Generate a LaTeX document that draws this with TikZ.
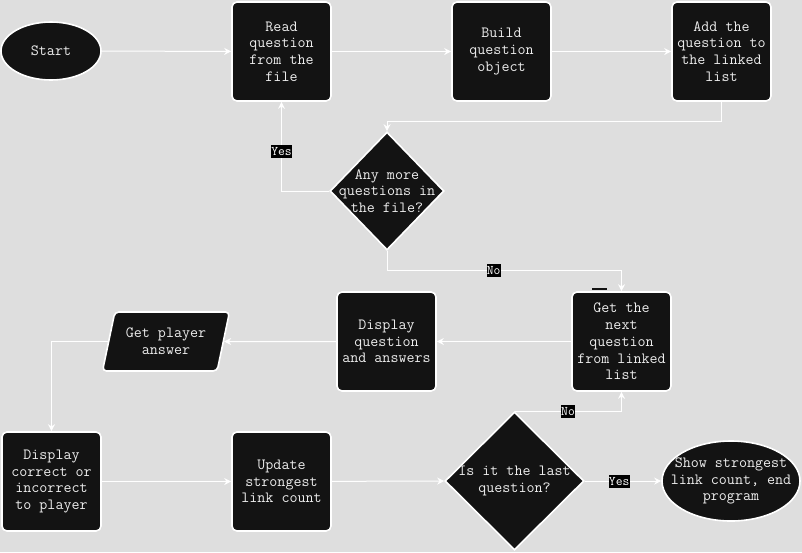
\documentclass[tikz,border=0pt]{standalone}
\usepackage{fontspec}
\usetikzlibrary{shapes.geometric,arrows.meta}
\definecolor{canvas}{HTML}{DEDEDE}
\definecolor{boxfill}{HTML}{131313}
\definecolor{ink}{HTML}{EDEDED}

\tikzset{
  txt/.style={text=ink, font=\ttfamily\fontsize{15.6}{16.7}\selectfont, align=center, inner sep=0pt},
  base/.style={txt, draw=white, line width=1.6pt, fill=boxfill},
  process/.style={base, rectangle, rounded corners=5pt, minimum width=99pt, minimum height=99pt},
  terminal/.style={base, ellipse},
  decision/.style={base, diamond},
  io/.style={base, trapezium, trapezium left angle=65, trapezium right angle=115,
    trapezium stretches body, rounded corners=4pt, minimum width=127pt, minimum height=59pt},
  flow/.style={draw=white, line width=1pt, -{Stealth[length=7pt,width=7pt]}},
  tag/.style={fill=black, text=white, font=\ttfamily\fontsize{13.2}{13}\selectfont,
    inner sep=0.3pt, minimum height=13pt}
}

\begin{document}
\begin{tikzpicture}[x=1pt,y=-1pt]
\useasboundingbox[fill=canvas] (0,0) rectangle (802,552);

% top row: reading the file
\node[terminal, minimum width=100pt, minimum height=58pt] (start) at (51,51) {};
\node[txt] (starttext) at (start.center) {Start};
\node[process] (read) at (281.5,51.5) {Read\\question\\from the\\file};
\node[process] (build) at (501.5,51.5) {Build\\question\\object};
\node[process] (add) at (721.5,51.5) {Add the\\question to\\the linked\\list};

% loop test over the file
\node[decision, minimum width=114pt, minimum height=118pt] (more) at (387,191) {};
\node[txt] (moretext) at (more.center) {Any more\\questions in\\the file?};

% middle row: asking a question
\node[process] (next) at (621.5,341.5) {Get the\\next\\question\\from linked\\list};
\node[process] (show) at (386.5,341.5) {Display\\question\\and answers};
\node[io] (answer) at (166,341.5) {Get player\\answer};

% bottom row: checking the answer
\node[process] (feedback) at (51.5,481.5) {Display\\correct or\\incorrect\\to player};
\node[process] (update) at (281.5,481.5) {Update\\strongest\\link count};
\node[decision, minimum width=139pt, minimum height=138pt] (last) at (514.5,481) {};
\node[txt] (lasttext) at (last.center) {Is it the last\\question?};
\node[terminal, minimum width=138pt, minimum height=80pt] (finish) at (731,481) {};
\node[txt] (finishtext) at (finish.center) {Show strongest\\link count, end\\program};

% connectors
\draw[flow] (start) -- (read);
\draw[flow] (read) -- (build);
\draw[flow] (build) -- (add);
\draw[flow] (add.south) -- ++(0,20) -| (more.north);
\draw[flow] (more.west) -| node[tag, pos=0.72] {Yes} (read.south);
\draw[flow] (more.south) -- ++(0,20) coordinate (nobend)
  -- (nobend -| next.north) node[tag, pos=0.455] {No} -- (next.north);
\draw[flow] (next.west) -- (show.east);
\draw[flow] (show.west) -- (answer.east);
\draw[flow] (answer.west) -| (feedback.north);
\draw[flow] (feedback) -- (update);
\draw[flow] (update) -- (last.west);
\draw[flow] (last.east) -- node[tag, pos=0.45] {Yes} (finish.west);
\draw[flow] (last.north) -| node[tag, pos=0.25] {No} (next.south);

% small dark stroke above the list box
\draw[boxfill, line width=1.2pt] (592,289) -- (607,289);
\end{tikzpicture}
\end{document}
